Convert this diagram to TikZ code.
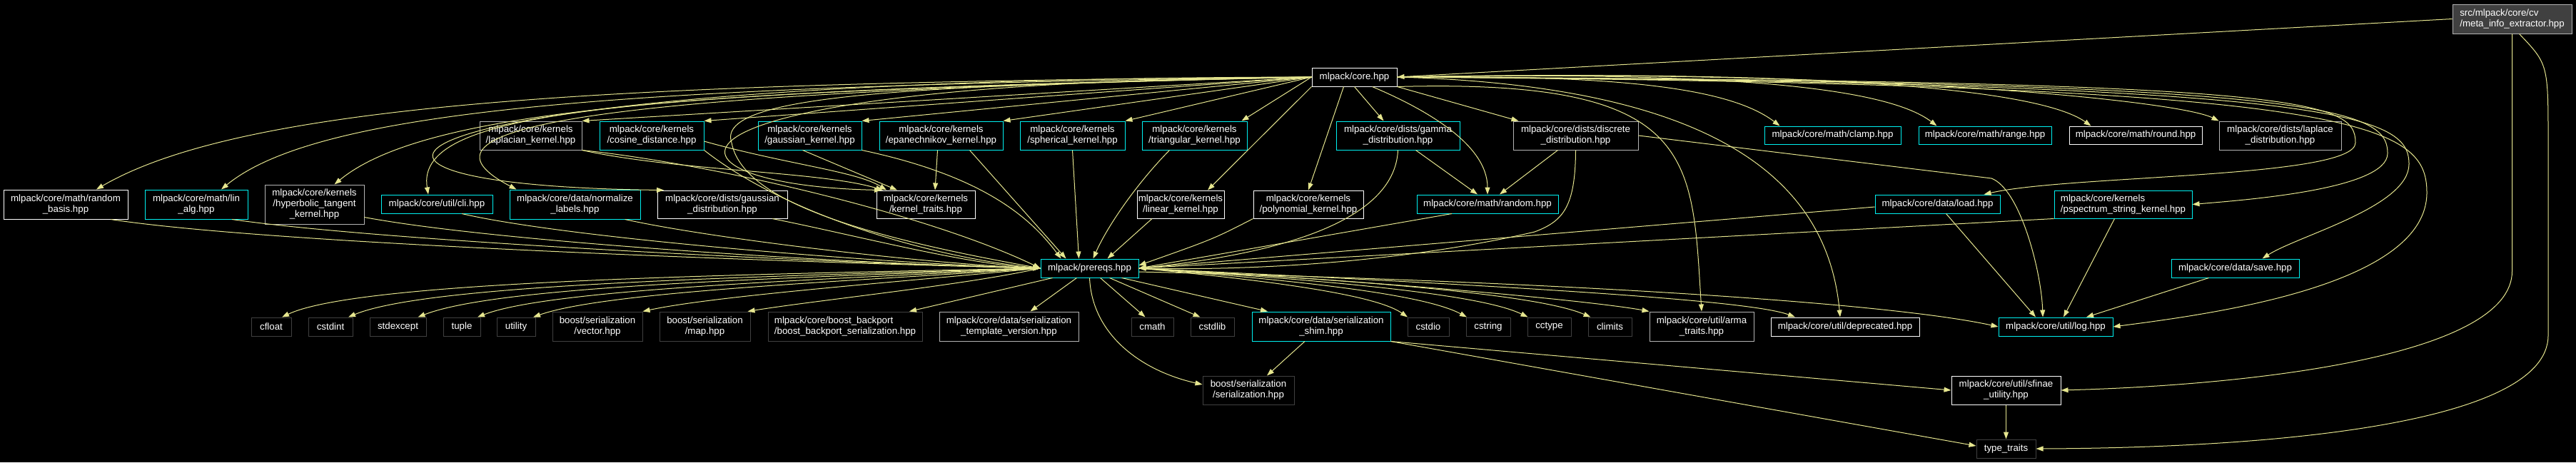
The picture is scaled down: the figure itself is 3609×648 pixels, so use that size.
\documentclass[tikz,border=0pt]{standalone}
\usepackage{fontspec}
\setmainfont{Liberation Sans}
\usetikzlibrary{arrows.meta}

\definecolor{edgeyel}{HTML}{E6E68F}
\definecolor{cutcyan}{HTML}{00F0F0}
\definecolor{docgray}{HTML}{B4B4B4}
\definecolor{sysgray}{HTML}{404040}

\begin{document}
\begin{tikzpicture}[x=1pt, y=-1pt,
    file/.style={draw=white, fill=black, text=white, line width=1pt, inner sep=0pt,
                 align=center, font=\fontsize{13.3}{15}\selectfont},
    cut/.style={file, draw=cutcyan},
    docfile/.style={file, draw=docgray},
    sysfile/.style={file, draw=sysgray},
    sz/.style 2 args={minimum width=#1pt, minimum height=#2pt},
    inc/.style={draw=edgeyel, line width=1pt, -{Triangle[length=10pt,width=7pt]}}]

  \useasboundingbox (0,0) rectangle (3609,648);
  \fill[black] (0,0) rectangle (3609,648);

  % top
  \node[docfile, fill=sysgray, align=left, sz={167}{41}] (meta) at (3519.5,26.5) {src/mlpack/core/cv\\/meta\_info\_extractor.hpp};
  \node[file, sz={119}{26}] (core) at (1897.5,108) {mlpack/core.hpp};

  % second row
  \node[docfile, sz={143}{40}] (laplacian) at (743.5,190) {mlpack/core/kernels\\/laplacian\_kernel.hpp};
  \node[cut, sz={146}{40}] (cosine) at (913,190) {mlpack/core/kernels\\/cosine\_distance.hpp};
  \node[cut, sz={145}{40}] (gaussk) at (1134.5,190) {mlpack/core/kernels\\/gaussian\_kernel.hpp};
  \node[cut, sz={173}{40}] (epan) at (1318.5,190) {mlpack/core/kernels\\/epanechnikov\_kernel.hpp};
  \node[cut, sz={147}{40}] (spher) at (1502.5,190) {mlpack/core/kernels\\/spherical\_kernel.hpp};
  \node[cut, sz={147}{40}] (triang) at (1673.5,190) {mlpack/core/kernels\\/triangular\_kernel.hpp};
  \node[cut, sz={173}{40}] (gamma) at (1958.5,190) {mlpack/core/dists/gamma\\\_distribution.hpp};
  \node[docfile, sz={175}{40}] (discrete) at (2207.5,190) {mlpack/core/dists/discrete\\\_distribution.hpp};
  \node[cut, sz={191}{25}] (clamp) at (2567.5,189.5) {mlpack/core/math/clamp.hpp};
  \node[cut, sz={186}{25}] (range) at (2781,189.5) {mlpack/core/math/range.hpp};
  \node[file, sz={186}{25}] (round) at (2992,189.5) {mlpack/core/math/round.hpp};
  \node[docfile, sz={171}{40}] (laplace) at (3194.5,190) {mlpack/core/dists/laplace\\\_distribution.hpp};

  % third row
  \node[file, sz={174}{41}] (rbasis) at (92,286.5) {mlpack/core/math/random\\\_basis.hpp};
  \node[cut, sz={144}{41}] (linalg) at (275,286.5) {mlpack/core/math/lin\\\_alg.hpp};
  \node[docfile, sz={139}{55}] (hyper) at (440.5,286.5) {mlpack/core/kernels\\/hyperbolic\_tangent\\\_kernel.hpp};
  \node[cut, sz={156}{26}] (cli) at (612,286) {mlpack/core/util/cli.hpp};
  \node[cut, sz={183}{41}] (normlab) at (805.5,286.5) {mlpack/core/data/normalize\\\_labels.hpp};
  \node[file, sz={182}{39}] (gaussd) at (1012,286.5) {mlpack/core/dists/gaussian\\\_distribution.hpp};
  \node[file, sz={138}{39}] (ktraits) at (1297,286.5) {mlpack/core/kernels\\/kernel\_traits.hpp};
  \node[file, sz={122}{39}] (linear) at (1654,286.5) {mlpack/core/kernels\\/linear\_kernel.hpp};
  \node[file, sz={154}{39}] (poly) at (1833,286.5) {mlpack/core/kernels\\/polynomial\_kernel.hpp};
  \node[cut, sz={198}{26}] (random) at (2084,286) {mlpack/core/math/random.hpp};
  \node[cut, sz={175}{26}] (load) at (2714.5,286) {mlpack/core/data/load.hpp};
  \node[cut, align=left, sz={193}{39}] (pspec) at (2974.5,286.5) {mlpack/core/kernels\\/pspectrum\_string\_kernel.hpp};

  \node[cut, sz={137}{26}] (prereqs) at (1526.5,376) {mlpack/prereqs.hpp};
  \node[cut, sz={179}{26}] (save) at (3131.5,376) {mlpack/core/data/save.hpp};

  % bottom row
  \node[sysfile, sz={56}{26}] (cfloat) at (380,458) {cfloat};
  \node[sysfile, sz={62}{26}] (cstdint) at (463,458) {cstdint};
  \node[sysfile, sz={79}{26}] (stdexcept) at (557.5,458) {stdexcept};
  \node[sysfile, sz={52}{26}] (tuple) at (647,458) {tuple};
  \node[sysfile, sz={54}{26}] (utility) at (723,458) {utility};
  \node[sysfile, sz={126}{41}] (vector) at (837,457.5) {boost/serialization\\/vector.hpp};
  \node[sysfile, sz={127}{41}] (map) at (987.5,457.5) {boost/serialization\\/map.hpp};
  \node[sysfile, align=left, sz={216}{41}] (backport) at (1184,457.5) {mlpack/core/boost\_backport\\/boost\_backport\_serialization.hpp};
  \node[docfile, sz={195}{41}] (tmplver) at (1413.5,457.5) {mlpack/core/data/serialization\\\_template\_version.hpp};
  \node[sysfile, sz={59}{26}] (cmath) at (1614.5,458) {cmath};
  \node[sysfile, sz={61}{26}] (cstdlib) at (1698.5,458) {cstdlib};
  \node[cut, sz={194}{41}] (shim) at (1851,457.5) {mlpack/core/data/serialization\\\_shim.hpp};
  \node[sysfile, sz={58}{26}] (cstdio) at (2001,458) {cstdio};
  \node[sysfile, sz={62}{26}] (cstring) at (2085,458) {cstring};
  \node[sysfile, sz={61}{26}] (cctype) at (2170.5,458) {cctype};
  \node[sysfile, sz={61}{26}] (climits) at (2255.5,458) {climits};
  \node[docfile, sz={146}{41}] (arma) at (2384,457.5) {mlpack/core/util/arma\\\_traits.hpp};
  \node[file, sz={208}{26}] (deprec) at (2585,458) {mlpack/core/util/deprecated.hpp};
  \node[cut, sz={160}{26}] (log) at (2880,458) {mlpack/core/util/log.hpp};

  \node[sysfile, sz={128}{40}] (serial) at (1749,547) {boost/serialization\\/serialization.hpp};
  \node[file, sz={153}{40}] (sfinae) at (2810.5,547) {mlpack/core/util/sfinae\\\_utility.hpp};
  \node[sysfile, sz={83}{26}] (tt) at (2810.5,629) {type\_traits};

  % meta_info_extractor.hpp
  \draw[inc] (meta.west) -- (core.east);
  \draw[inc] (meta.south) -- (3519.5,380) .. controls (3519.5,500) and (3150,540) .. (sfinae.east);
  \draw[inc] ([xshift=10pt]meta.south) .. controls (3570,90) .. (3570,200) -- (3570,470) .. controls (3570,600) and (3150,628) .. (tt.east);

  % core.hpp, left side
  \draw[inc] (core.west) .. controls (900,115) and (350,140) .. ([xshift=43pt]rbasis.north);
  \draw[inc] (core.west) .. controls (900,120) and (450,150) .. ([xshift=35pt]linalg.north);
  \draw[inc] (core.west) .. controls (1000,125) and (600,150) .. ([xshift=28pt]hyper.north);
  \draw[inc] (core.west) .. controls (900,130) and (580,150) .. ([xshift=-12pt]cli.north);
  \draw[inc] (core.west) .. controls (800,130) and (560,180) .. ([xshift=-82pt]normlab.north);
  \draw[inc] (core.west) .. controls (500,110) and (350,260) .. ([xshift=-82pt]gaussd.north);
  \draw[inc] (core.west) -- (laplacian.north east);
  \draw[inc] (core.west) -- (cosine.north east);
  \draw[inc] (core.west) -- (gaussk.north east);
  \draw[inc] (core.west) -- (epan.north east);
  \draw[inc] (core.west) -- (spher.north east);
  \draw[inc] (core.west) -- ([xshift=-8pt]triang.north east);
  \draw[inc] (core.west) .. controls (850,115) and (900,260) .. ([xshift=-62pt]ktraits.north);
  \draw[inc] (core.west) .. controls (1300,120) and (1000,130) .. (1025,200) .. controls (1040,280) and (1200,330) .. (prereqs.west);
  \draw[inc] (core.south west) -- ([xshift=38pt]linear.north);
  \draw[inc] ([xshift=-15pt]core.south) -- (poly.north);

  % core.hpp, right side
  \draw[inc] (core.south) -- ([xshift=-20pt]gamma.north);
  \draw[inc] (core.south east) -- ([xshift=8pt]discrete.north west);
  \draw[inc] ([xshift=25pt]core.south) .. controls (1990,150) and (2084,200) .. (random.north);
  \draw[inc] (core.south east) .. controls (2380,110) and (2370,220) .. (arma.north);
  \draw[inc] (core.east) .. controls (2400,120) and (2560,250) .. ([xshift=-7pt]deprec.north);
  \draw[inc] (core.east) .. controls (2250,105) and (2420,120) .. ([xshift=22pt]clamp.north west);
  \draw[inc] (core.east) .. controls (2400,100) and (2640,120) .. ([xshift=26pt]range.north west);
  \draw[inc] (core.east) .. controls (2500,98) and (2850,120) .. ([xshift=31pt]round.north west);
  \draw[inc] (core.east) .. controls (2600,96) and (3050,140) .. (laplace.north west);
  \draw[inc] (core.east) .. controls (3230,113) and (3300,140) .. (3300,200) .. controls (3300,250) and (2900,245) .. ([xshift=65pt]load.north);
  \draw[inc] (core.east) .. controls (3250,114) and (3345,150) .. (3345,215) .. controls (3345,265) and (3150,280) .. (pspec.east);
  \draw[inc] (core.east) .. controls (3280,116) and (3375,160) .. (3375,230) .. controls (3375,290) and (3220,330) .. ([xshift=38pt]save.north);
  \draw[inc] (core.east) .. controls (3300,118) and (3400,170) .. (3400,270) .. controls (3400,400) and (3100,440) .. (log.east);

  % into prereqs.hpp
  \draw[inc] ([xshift=63pt]rbasis.south) .. controls (400,345) and (1200,370) .. (prereqs.west);
  \draw[inc] ([xshift=50pt]linalg.south) .. controls (550,340) and (1200,370) .. (prereqs.west);
  \draw[inc] ([yshift=10pt]hyper.south east) .. controls (700,340) and (1200,370) .. (prereqs.west);
  \draw[inc] ([xshift=35pt]cli.south) .. controls (800,335) and (1250,370) .. (prereqs.west);
  \draw[inc] ([xshift=70pt]normlab.south) .. controls (1000,335) and (1300,370) .. (prereqs.west);
  \draw[inc] ([xshift=70pt]gaussd.south) .. controls (1200,330) and (1350,370) .. (prereqs.west);
  \draw[inc] (laplacian.south east) .. controls (1000,230) and (1300,300) .. (prereqs.west);
  \draw[inc] (laplacian.south east) .. controls (950,240) and (1150,240) .. ([xshift=-60pt]ktraits.north);
  \draw[inc] ([yshift=-8pt]cosine.east) .. controls (1100,230) and (1200,240) .. ([xshift=-55pt]ktraits.north);
  \draw[inc] (cosine.south east) .. controls (1100,300) and (1300,360) .. (prereqs.west);
  \draw[inc] ([xshift=-10pt]gaussk.south) -- ([xshift=-40pt]ktraits.north);
  \draw[inc] (gaussk.south east) .. controls (1370,245) and (1440,300) .. ([xshift=-40pt]prereqs.north);
  \draw[inc] ([xshift=-5pt]epan.south) -- ([xshift=13pt]ktraits.north);
  \draw[inc] ([xshift=40pt]epan.south) -- ([xshift=-33pt]prereqs.north);
  \draw[inc] (spher.south) -- ([xshift=-15pt]prereqs.north);
  \draw[inc] ([xshift=-35pt]triang.south) .. controls (1590,260) and (1550,320) .. ([xshift=5pt]prereqs.north);
  \draw[inc] ([xshift=-40pt]linear.south) -- ([xshift=25pt]prereqs.north);
  \draw[inc] (poly.south west) .. controls (1700,335) .. ([yshift=4pt]prereqs.east);
  \draw[inc] (gamma.south) .. controls (1955,290) and (1850,350) .. (prereqs.east);
  \draw[inc] ([xshift=25pt]gamma.south) -- ([xshift=-14pt]random.north);
  \draw[inc] ([xshift=-25pt]discrete.south) -- ([xshift=17pt]random.north);
  \draw[inc] (discrete.south) .. controls (2207,290) and (2190,310) .. (2150,325) .. controls (2000,360) and (1800,380) .. (prereqs.east);
  \draw[inc] (discrete.east) -- (2790,250) .. controls (2830,265) and (2860,380) .. ([xshift=-18pt]log.north);
  \draw[inc] ([xshift=-50pt]random.south) -- (prereqs.east);
  \draw[inc] ([yshift=-4pt]load.west) -- (prereqs.east);
  \draw[inc] ([xshift=12pt]load.south) -- ([xshift=-28pt]log.north);
  \draw[inc] (pspec.south west) -- (prereqs.east);
  \draw[inc] ([xshift=-12pt]pspec.south) -- ([xshift=11pt]log.north);
  \draw[inc] ([xshift=-37pt]save.south) -- ([xshift=43pt]log.north);

  % prereqs.hpp, left side
  \draw[inc] (prereqs.west) .. controls (1000,385) and (500,395) .. ([xshift=15pt]cfloat.north);
  \draw[inc] (prereqs.west) .. controls (1050,388) and (600,398) .. ([xshift=25pt]cstdint.north);
  \draw[inc] (prereqs.west) .. controls (1100,390) and (700,400) .. ([xshift=28pt]stdexcept.north);
  \draw[inc] (prereqs.west) .. controls (1150,392) and (770,405) .. ([xshift=22pt]tuple.north);
  \draw[inc] (prereqs.west) .. controls (1200,394) and (850,408) .. ([xshift=24pt]utility.north);
  \draw[inc] (prereqs.west) .. controls (1250,396) and (1000,415) .. (vector.north east);
  \draw[inc] (prereqs.west) .. controls (1350,400) and (1150,420) .. ([xshift=60pt]map.north);
  \draw[inc] ([xshift=-52pt]prereqs.south) -- ([xshift=90pt]backport.north);
  \draw[inc] ([xshift=-18pt]prereqs.south) -- ([xshift=30pt]tmplver.north);
  \draw[inc] (prereqs.south) .. controls (1530,470) and (1600,520) .. ([yshift=8pt]serial.west);

  % prereqs.hpp, right side
  \draw[inc] ([xshift=15pt]prereqs.south) -- ([xshift=-10pt]cmath.north);
  \draw[inc] ([xshift=28pt]prereqs.south) -- ([xshift=-17pt]cstdlib.north);
  \draw[inc] ([xshift=45pt]prereqs.south) -- ([xshift=-75pt]shim.north);
  \draw[inc] (prereqs.east) .. controls (1800,395) and (1930,415) .. ([xshift=-29pt]cstdio.north);
  \draw[inc] (prereqs.east) .. controls (1850,395) and (2000,415) .. ([xshift=-30pt]cstring.north);
  \draw[inc] (prereqs.east) .. controls (1900,395) and (2080,415) .. ([xshift=-30pt]cctype.north);
  \draw[inc] (prereqs.east) .. controls (1950,395) and (2160,415) .. ([xshift=-27pt]climits.north);
  \draw[inc] (prereqs.east) .. controls (2000,398) and (2250,425) .. (arma.north west);
  \draw[inc] (prereqs.east) .. controls (2100,400) and (2450,420) .. ([xshift=-70pt]deprec.north);
  \draw[inc] ([yshift=-5pt]prereqs.east) .. controls (2200,395) and (2650,425) .. (log.west);

  % serialization_shim.hpp
  \draw[inc] ([xshift=-23pt]shim.south) -- ([xshift=26pt]serial.north);
  \draw[inc] (shim.south east) -- (sfinae.west);
  \draw[inc] (shim.south east) -- ([yshift=4pt]tt.west);
  \draw[inc] (sfinae.south) -- (tt.north);

\end{tikzpicture}
\end{document}
